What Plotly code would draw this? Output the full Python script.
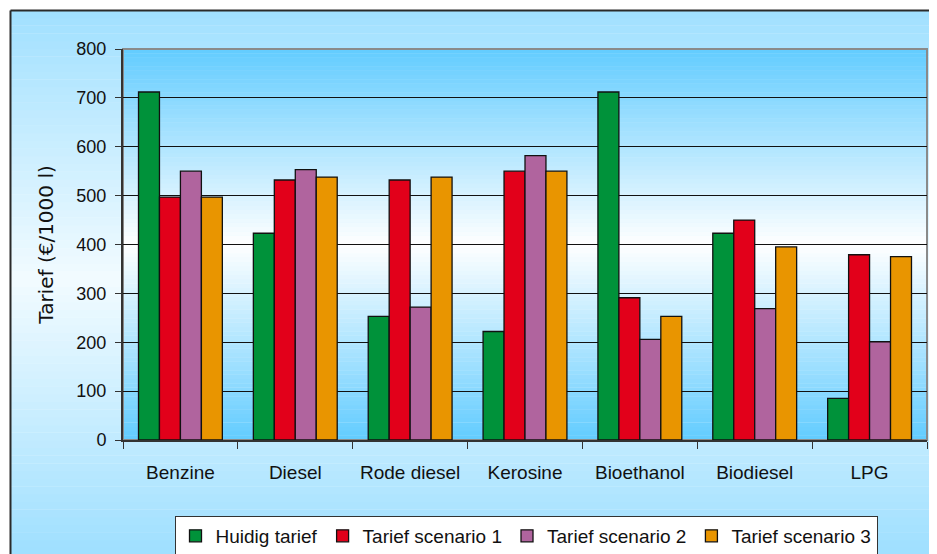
import plotly.graph_objects as go

# data
brandstoffen = ["Benzine", "Diesel", "Rode diesel", "Kerosine", "Bioethanol", "Biodiesel", "LPG"]
huidig_tarief = [712, 423, 253, 222, 712, 423, 85]
scenario_1 = [497, 532, 532, 550, 291, 450, 379]
scenario_2 = [550, 553, 272, 582, 206, 269, 201]
scenario_3 = [497, 538, 538, 550, 253, 395, 375]
y_ticks = [0, 100, 200, 300, 400, 500, 600, 700, 800]

series = [
    ("Huidig tarief", huidig_tarief, "#00923A"),
    ("Tarief scenario 1", scenario_1, "#E2001A"),
    ("Tarief scenario 2", scenario_2, "#B0649E"),
    ("Tarief scenario 3", scenario_3, "#E99500"),
]

# the page body has an 8px margin, so the figure starts at (8, 8) in the window
OFF = 8
W, H = 937 - OFF, 554 - OFF
ML, MR, MT, MB = 123 - OFF, 10, 49 - OFF, 114
PW, PH = W - ML - MR, H - MT - MB


def sx(p):
    # window pixel -> paper x
    return (p - OFF - ML) / PW


def sy(p):
    # window pixel -> paper y
    return (H - MB - (p - OFF)) / PH


def mix(c1, c2, t):
    a = [int(c1[i:i + 2], 16) for i in (1, 3, 5)]
    b = [int(c2[i:i + 2], 16) for i in (1, 3, 5)]
    return "rgb(%d,%d,%d)" % tuple(round(a[k] + (b[k] - a[k]) * t) for k in range(3))


def gradient_bands(x0, x1, y0, y1, edge, centre, n):
    # vertical two-colour gradient, edge colour at top and bottom, centre colour in the middle
    bands = []
    step = (y1 - y0) / n
    for i in range(n):
        mid = (i + 0.5) / n
        t = 1 - abs(mid - 0.5) * 2
        bands.append(dict(type="rect", xref="paper", yref="paper", layer="below",
                          x0=x0, x1=x1, y0=y0 + i * step, y1=y0 + (i + 1) * step + step * 0.05,
                          fillcolor=mix(edge, centre, t), line=dict(width=0)))
    return bands


shapes = []
# outer chart frame, runs past the right and bottom edge of the picture
fx0, fx1, fy0, fy1 = sx(10.5), sx(990), sy(548), sy(10.5)
shapes += gradient_bands(fx0, fx1, fy0, fy1, "#A0E0FF", "#F2FBFF", 70)
shapes.append(dict(type="rect", xref="paper", yref="paper", layer="below",
                   x0=fx0, x1=fx1, y0=sy(620), y1=fy0 + 0.001, fillcolor="#A0E0FF",
                   line=dict(width=0)))
# plot area
shapes += gradient_bands(0, 1, 0, 1, "#62CCFF", "#FFFFFF", 90)
shapes.append(dict(type="rect", xref="paper", yref="paper", layer="below",
                   x0=0, x1=1, y0=0, y1=1, line=dict(color="#8A8A8A", width=2)))
# frame border lines (left and top)
shapes.append(dict(type="line", xref="paper", yref="paper", layer="below",
                   x0=fx0, x1=fx0, y0=sy(620), y1=fy1, line=dict(color="#2A2A2A", width=2)))
shapes.append(dict(type="line", xref="paper", yref="paper", layer="below",
                   x0=fx0, x1=fx1, y0=fy1, y1=fy1, line=dict(color="#2A2A2A", width=2)))

fig = go.Figure()
for name, vals, col in series:
    fig.add_trace(go.Bar(
        x=brandstoffen, y=vals, name=name,
        marker=dict(color=col, line=dict(color="#111111", width=1.3)),
    ))

fig.update_layout(
    width=W, height=H,
    margin=dict(l=ML, r=MR, t=MT, b=MB, autoexpand=False),
    paper_bgcolor="white",
    plot_bgcolor="rgba(0,0,0,0)",
    barmode="group",
    bargap=0.27,
    bargroupgap=0,
    font=dict(family="Liberation Sans, Arial, sans-serif", color="#111111", size=18),
    shapes=shapes,
    legend=dict(
        orientation="h", x=sx(526), xanchor="center", y=sy(516), yanchor="top",
        bgcolor="white", bordercolor="#333333", borderwidth=1,
        font=dict(size=19), itemwidth=30, tracegroupgap=0,
    ),
    xaxis=dict(
        automargin=False,
        showline=True, linecolor="#333333", linewidth=2,
        ticks="outside", tickson="boundaries", ticklen=7, tickcolor="#333333", tickwidth=1,
        tickfont=dict(size=19), ticklabelstandoff=14,
    ),
    yaxis=dict(
        automargin=False,
        range=[0, 800], tickvals=y_ticks, showline=True, linecolor="#333333", linewidth=2,
        ticks="outside", ticklen=6, tickcolor="#333333", tickwidth=1,
        showgrid=True, gridcolor="#111111", gridwidth=1, zeroline=False,
        tickfont=dict(size=18), ticklabelstandoff=5,
        title=dict(text="Tarief (€/1000 l)", standoff=17,
                   font=dict(family="DejaVu Sans, sans-serif", size=20)),
    ),
)

fig.write_html("out.html")
